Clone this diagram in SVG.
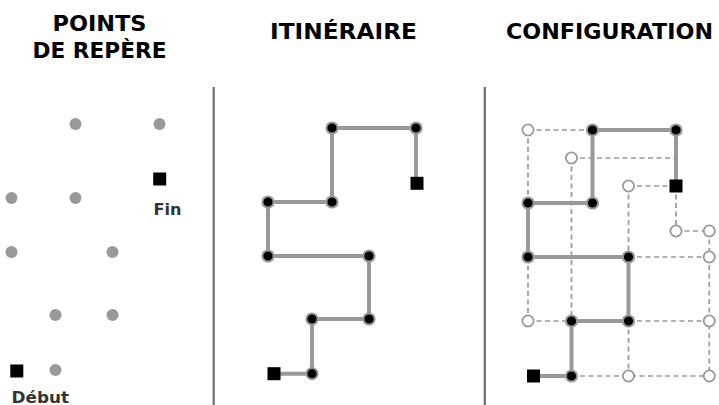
<svg xmlns="http://www.w3.org/2000/svg" width="719" height="405" viewBox="0 0 719 405">
<style>
.title{font-family:"DejaVu Sans","Liberation Sans",sans-serif;font-weight:bold;font-size:21.5px;fill:#000;text-anchor:middle}
.lbl{font-family:"DejaVu Sans","Liberation Sans",sans-serif;font-weight:bold;font-size:16.5px;fill:#333}
.sep{stroke:#6e6e6e;stroke-width:2.2}
.dot{fill:#999}
.node{fill:#000;stroke:#999;stroke-width:2}
.open{fill:#fff;stroke:#999;stroke-width:1.8}
.sq{fill:#000}
.route{fill:none;stroke:#999;stroke-width:4;stroke-linejoin:round}
.dash{fill:none;stroke:#999;stroke-width:1.7;stroke-dasharray:5 3.5}
</style>
<rect width="719" height="405" fill="#fff"/>
<g id="titles">
<text class="title" x="99.5" y="31" textLength="94" lengthAdjust="spacingAndGlyphs">POINTS</text>
<text class="title" x="99.5" y="57.5" textLength="134" lengthAdjust="spacingAndGlyphs">DE REPÈRE</text>
<text class="title" x="343.5" y="38.5" textLength="147" lengthAdjust="spacingAndGlyphs">ITINÉRAIRE</text>
<text class="title" x="609.5" y="38.5" textLength="207" lengthAdjust="spacingAndGlyphs">CONFIGURATION</text>
</g>
<g id="separators">
<line class="sep" x1="213.7" y1="87" x2="213.7" y2="405"/>
<line class="sep" x1="484.8" y1="87" x2="484.8" y2="405"/>
</g>
<g id="panel-points">
<circle class="dot" cx="75.5" cy="124" r="6"/>
<circle class="dot" cx="159.5" cy="124" r="6"/>
<circle class="dot" cx="11.5" cy="198" r="6"/>
<circle class="dot" cx="75.5" cy="198" r="6"/>
<circle class="dot" cx="11.5" cy="252" r="6"/>
<circle class="dot" cx="112.5" cy="252" r="6"/>
<circle class="dot" cx="55.5" cy="315" r="6"/>
<circle class="dot" cx="112.5" cy="315" r="6"/>
<circle class="dot" cx="55.5" cy="370" r="6"/>
<g id="fin"><rect class="sq" x="153.2" y="172.5" width="13" height="13"/><text class="lbl" x="153.5" y="215" textLength="28" lengthAdjust="spacingAndGlyphs">Fin</text></g>
<g id="debut"><rect class="sq" x="10.3" y="364.5" width="13" height="13"/><text class="lbl" x="11.5" y="402.5" textLength="57.5" lengthAdjust="spacingAndGlyphs">Début</text></g>
</g>
<g id="panel-itineraire">
<g id="route2-connectors">
<polyline class="route" points="274,373.7 312,373.7 312,319 369,319 369,256 268,256 268,202 332,202 332,128 416,128 416,183.3"/>
</g>
<g id="route2-nodes">
<rect class="sq" x="267.5" y="367.2" width="13" height="13"/>
<circle class="node" cx="312" cy="373.7" r="5.6"/>
<circle class="node" cx="312" cy="319" r="5.6"/>
<circle class="node" cx="369" cy="319" r="5.6"/>
<circle class="node" cx="369" cy="256" r="5.6"/>
<circle class="node" cx="268" cy="256" r="5.6"/>
<circle class="node" cx="268" cy="202" r="5.6"/>
<circle class="node" cx="332" cy="202" r="5.6"/>
<circle class="node" cx="332" cy="128" r="5.6"/>
<circle class="node" cx="416" cy="128" r="5.6"/>
<rect class="sq" x="410.5" y="176.8" width="13" height="13"/>
</g>
</g>
<g id="panel-configuration">
<g id="config-connectors">
<line class="dash" x1="528" y1="130" x2="592.5" y2="130"/>
<line class="dash" x1="528" y1="130" x2="528" y2="203"/>
<line class="dash" x1="571.5" y1="158" x2="676" y2="158"/>
<line class="dash" x1="571.5" y1="158" x2="571.5" y2="321"/>
<line class="dash" x1="628.5" y1="186" x2="676" y2="186"/>
<line class="dash" x1="628.5" y1="186" x2="628.5" y2="257"/>
<line class="dash" x1="676" y1="186" x2="676" y2="231"/>
<line class="dash" x1="676" y1="231" x2="709.3" y2="231"/>
<line class="dash" x1="709.3" y1="231" x2="709.3" y2="376"/>
<line class="dash" x1="628.5" y1="257" x2="709.3" y2="257"/>
<line class="dash" x1="528" y1="257" x2="528" y2="321"/>
<line class="dash" x1="528" y1="321" x2="571.5" y2="321"/>
<line class="dash" x1="628.5" y1="321" x2="709.3" y2="321"/>
<line class="dash" x1="628.5" y1="321" x2="628.5" y2="376"/>
<line class="dash" x1="571.5" y1="376" x2="709.3" y2="376"/>
<polyline class="route" points="533.5,376 571.5,376 571.5,321 628.5,321 628.5,257 528,257 528,203 592.5,203 592.5,130 676,130 676,186"/>
</g>
<g id="config-nodes">
<circle class="open" cx="528" cy="130" r="5.6"/>
<circle class="open" cx="571.5" cy="158" r="5.6"/>
<circle class="open" cx="628.5" cy="186" r="5.6"/>
<circle class="open" cx="676" cy="231" r="5.6"/>
<circle class="open" cx="709.3" cy="231" r="5.6"/>
<circle class="open" cx="709.3" cy="257" r="5.6"/>
<circle class="open" cx="528" cy="321" r="5.6"/>
<circle class="open" cx="709.3" cy="321" r="5.6"/>
<circle class="open" cx="628.5" cy="376" r="5.6"/>
<circle class="open" cx="709.3" cy="376" r="5.6"/>
<circle class="node" cx="592.5" cy="130" r="5.6"/>
<circle class="node" cx="676" cy="130" r="5.6"/>
<circle class="node" cx="528" cy="203" r="5.6"/>
<circle class="node" cx="592.5" cy="203" r="5.6"/>
<circle class="node" cx="528" cy="257" r="5.6"/>
<circle class="node" cx="628.5" cy="257" r="5.6"/>
<circle class="node" cx="571.5" cy="321" r="5.6"/>
<circle class="node" cx="628.5" cy="321" r="5.6"/>
<circle class="node" cx="571.5" cy="376" r="5.6"/>
<rect class="sq" x="527" y="369.5" width="13" height="13"/>
<rect class="sq" x="669.5" y="179.5" width="13" height="13"/>
</g>
</g>
</svg>
